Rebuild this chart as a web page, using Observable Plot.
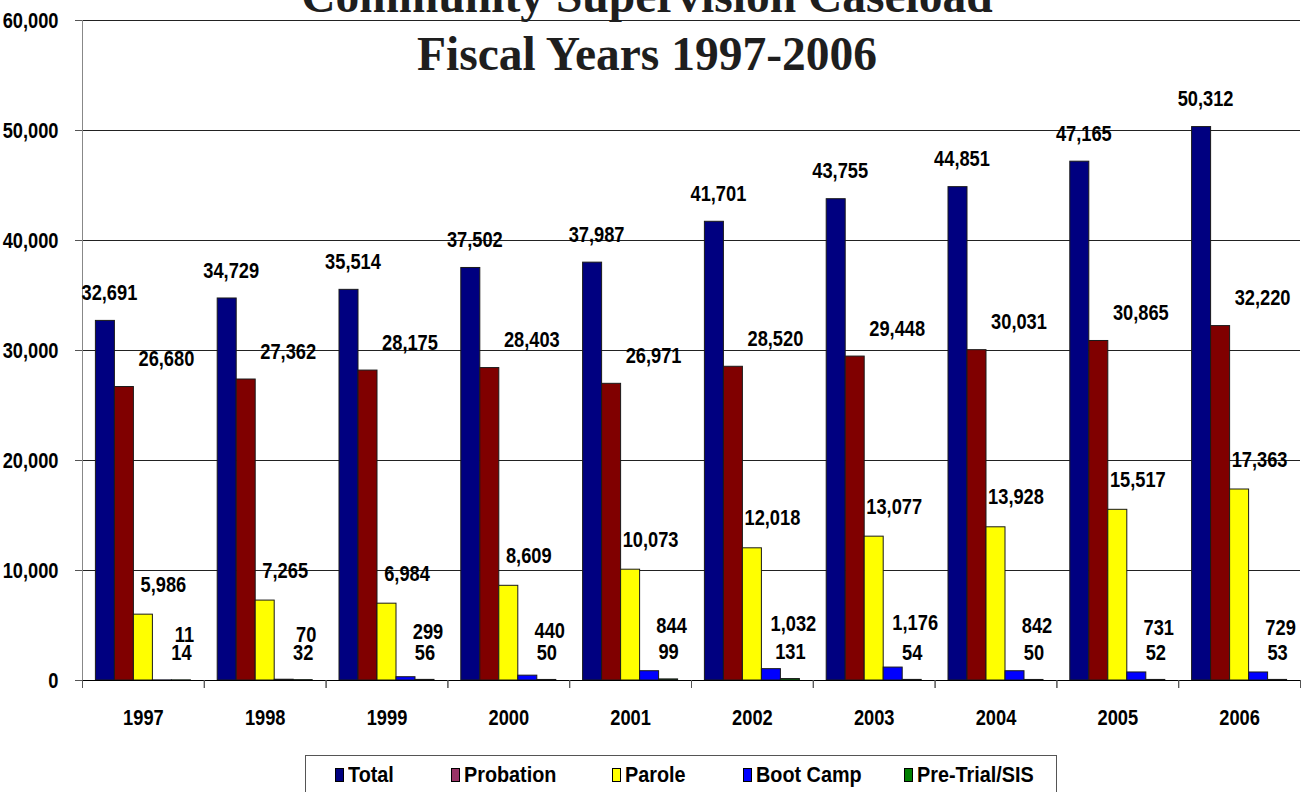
<!DOCTYPE html>
<html>
<head>
<meta charset="utf-8">
<script src="https://cdn.jsdelivr.net/npm/d3@7"></script>
<script src="https://cdn.jsdelivr.net/npm/@observablehq/plot@0.6"></script>
<style>
  html, body { margin: 0; padding: 0; background: #fff; }
  #wrap { position: relative; width: 1301px; height: 792px; overflow: hidden; }
  #chart { position: absolute; left: 0; top: 0; }
  #title { position: absolute; left: 0; top: -33px; width: 1294px; text-align: center;
    font-family: "Liberation Serif", "Times New Roman", serif; font-weight: bold; font-size: 47.5px;
    line-height: 58px; color: #1e1e1e; pointer-events: none; }
  #legend { position: absolute; left: 305px; top: 755px; width: 752px; height: 44px;
    border: 1px solid #555; background: #fff; box-sizing: border-box;
    font-family: "Liberation Sans", Arial, sans-serif;
    font-weight: bold; font-size: 22px; color: #000; }
  #legend .item { display: flex; align-items: center; white-space: nowrap; }
  #legend .sw { width: 9px; height: 14px; border: 1px solid #000; margin-right: 4px; box-sizing: border-box; flex: none; }
  #legend .txt { display: inline-block; transform: scaleX(0.9); transform-origin: left center; }
</style>
</head>
<body>
<div id="wrap">
  <div id="chart"></div>
  <div id="title">Community Supervision Caseload<br>Fiscal Years 1997-2006</div>
  <div id="legend"></div>
</div>
<script>
// ---- Data ----
const years = ["1997", "1998", "1999", "2000", "2001", "2002", "2003", "2004", "2005", "2006"];
const series = ["Total", "Probation", "Parole", "Boot Camp", "Pre-Trial/SIS"];
const total     = [32691, 34729, 35514, 37502, 37987, 41701, 43755, 44851, 47165, 50312];
const probation = [26680, 27362, 28175, 28403, 26971, 28520, 29448, 30031, 30865, 32220];
const parole    = [5986, 7265, 6984, 8609, 10073, 12018, 13077, 13928, 15517, 17363];
const bootCamp  = [11, 70, 299, 440, 844, 1032, 1176, 842, 731, 729];
const preTrial  = [14, 32, 56, 50, 99, 131, 54, 50, 52, 53];
const yTicks = [0, 10000, 20000, 30000, 40000, 50000, 60000];

// ---- Styles ----
const barColors = ["#000080", "#800000", "#ffff00", "#0000ff", "#008000"];
const legendColors = ["#000080", "#993366", "#ffff00", "#0000ff", "#008000"];
const labelDx = [4, 42, 20, 22, 0];
const labelDy = [-28, -28, -30, -45, -27];
const legendStarts = [334, 450, 611, 742, 903];

const valuesBySeries = [total, probation, parole, bootCamp, preTrial];
const rows = [];
series.forEach((s, i) => years.forEach((y, j) => rows.push({year: y, series: s, si: i, value: valuesBySeries[i][j]})));

const W = 1301, H = 745, ML = 82, MR = 1, MT = 20, MB = 65;
const band = (W - ML - MR) / years.length;
const barW = 19;
const pad = (band - series.length * barW) / 2;
const fmt = d3.format(",");

const marks = [
  Plot.gridY(yTicks, {stroke: "#222", strokeOpacity: 1, strokeWidth: 1}),
  Plot.ruleX([years[0]], {y1: 0, y2: 60000, dx: -band / 2, stroke: "#888"}),
];
series.forEach((s, i) => {
  marks.push(Plot.barY(rows.filter(d => d.si === i), {
    x: "year", y: "value", fill: barColors[i], stroke: "#1a1a1a", strokeWidth: 1,
    insetLeft: pad + barW * i, insetRight: band - pad - barW * (i + 1)
  }));
});
marks.push(Plot.ruleY([0], {stroke: "#000", strokeWidth: 1}));
marks.push(Plot.axisY({ticks: yTicks, tickFormat: fmt, tickSize: 7, tickPadding: 17, label: null, stroke: "#555", fontSize: 22}));
marks.push(Plot.axisX({tickSize: 0, tickPadding: 29, label: null, fontSize: 22}));
marks.push(Plot.axisX({tickSize: 8, tickFormat: () => "", label: null, dx: -band / 2, stroke: "#555"}));
marks.push(Plot.axisX({tickSize: 8, tickFormat: () => "", label: null, dx: band / 2, stroke: "#555"}));
series.forEach((s, i) => {
  marks.push(Plot.text(rows.filter(d => d.si === i), {
    x: "year", y: "value", text: d => fmt(d.value),
    dx: (i - 2) * barW + labelDx[i], dy: labelDy[i], fontSize: 22, fill: "#000"
  }));
});

const chart = Plot.plot({
  width: W, height: H,
  marginLeft: ML, marginRight: MR, marginTop: MT, marginBottom: MB,
  style: {fontFamily: "'Liberation Sans', Arial, sans-serif", fontWeight: "bold", fontSize: "22px", color: "#000", background: "transparent"},
  x: {domain: years, padding: 0, round: false, axis: null},
  y: {domain: [0, 60000], axis: null},
  marks
});
document.getElementById("chart").appendChild(chart);

// Condense text horizontally (the original uses a narrow bold sans face)
chart.querySelectorAll("text").forEach(t => {
  const tr = t.getAttribute("transform");
  if (tr) {
    t.setAttribute("transform", tr + " scale(0.83,1)");
  } else {
    const x = +t.getAttribute("x") || 0, y = +t.getAttribute("y") || 0;
    t.removeAttribute("x"); t.removeAttribute("y");
    t.setAttribute("transform", `translate(${x},${y}) scale(0.83,1)`);
  }
});

const legend = document.getElementById("legend");
series.forEach((s, i) => {
  const item = document.createElement("div");
  item.className = "item";
  item.style.position = "absolute";
  item.style.left = (legendStarts[i] - 305) + "px";
  item.style.top = "6px";
  const sw = document.createElement("span");
  sw.className = "sw";
  sw.style.background = legendColors[i];
  const t = document.createElement("span");
  t.className = "txt";
  t.textContent = s;
  item.appendChild(sw); item.appendChild(t);
  legend.appendChild(item);
});
</script>
</body>
</html>
